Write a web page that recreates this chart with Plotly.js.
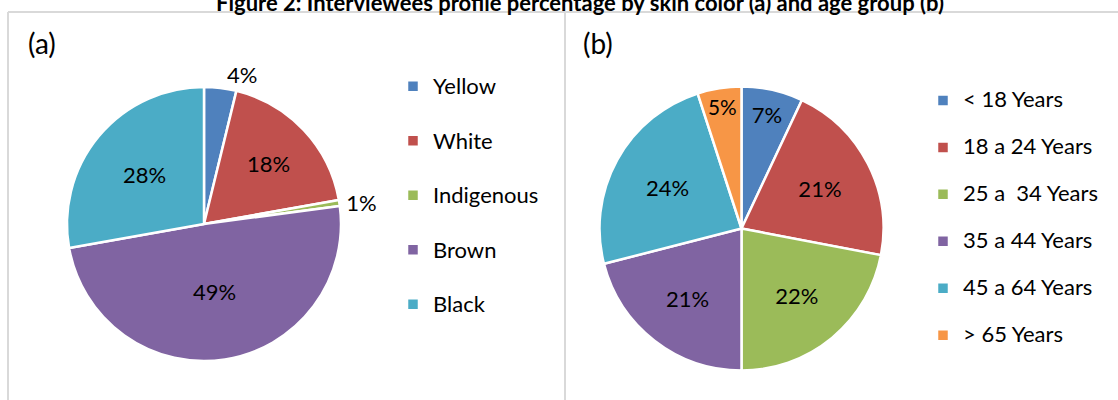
<!DOCTYPE html>
<html>
<head>
<meta charset="utf-8">
<script src="https://cdn.plot.ly/plotly-3.0.1.min.js"></script>
<style>html,body{margin:0;padding:0;background:#fff;}#chart{width:1118px;height:400px;}</style>
</head>
<body>
<div id="chart"></div>
<script>
// ---- data ----
var skinCategories = ["Yellow", "White", "Indigenous", "Brown", "Black"];
var skinValues = [3.8, 18.4, 0.7, 49.3, 27.8];
var skinColors = ["#4F81BD", "#C0504D", "#9BBB59", "#8064A2", "#4BACC6"];

var ageCategories = ["< 18 Years", "18 a 24 Years", "25 a  34 Years", "35 a 44 Years", "45 a 64 Years", "> 65 Years"];
var ageValues = [7, 21, 22, 21, 24, 5];
var ageColors = ["#4F81BD", "#C0504D", "#9BBB59", "#8064A2", "#4BACC6", "#F79646"];

var titleText = "Figure 2: Interviewees profile percentage by skin color (a) and age group (b)";

// ---- helpers ----
var W = 1118, H = 400;
function px(x) { return x / W; }
function py(y) { return 1 - y / H; }
var FONT = "Lato, 'Open Sans', sans-serif";
var labelSize = 22;
function legendLabel(c) {
  return '<span style="font-size:' + labelSize + 'px">' + c.replace(/</g, '&lt;').replace(/>/g, '&gt;') + '</span><br> ';
}

var skinTrace = {
  type: 'pie',
  labels: skinCategories.map(legendLabel),
  values: skinValues,
  sort: false,
  direction: 'clockwise',
  rotation: 0,
  marker: { colors: skinColors, line: { color: '#ffffff', width: 2.5 } },
  textinfo: 'percent',
  texttemplate: '%{percent:.0%}',
  textposition: ['outside', 'inside', 'outside', 'inside', 'inside'],
  insidetextorientation: 'horizontal',
  textfont: { family: FONT, size: labelSize, color: '#000000' },
  domain: { x: [px(67), px(341)], y: [py(361), py(87)] },
  legend: 'legend',
  hoverinfo: 'none'
};

var ageTrace = {
  type: 'pie',
  labels: ageCategories.map(legendLabel),
  values: ageValues,
  sort: false,
  direction: 'clockwise',
  rotation: 0,
  marker: { colors: ageColors, line: { color: '#ffffff', width: 2.5 } },
  textinfo: 'percent',
  texttemplate: '%{percent:.0%}',
  textposition: 'inside',
  insidetextorientation: 'horizontal',
  textfont: { family: FONT, size: labelSize, color: '#000000' },
  domain: { x: [px(599.5), px(883.5)], y: [py(370.5), py(86.5)] },
  legend: 'legend2',
  hoverinfo: 'none'
};

var borderColor = '#d9d9d9';
var layout = {
  width: W, height: H,
  margin: { l: 0, r: 0, t: 0, b: 0 },
  paper_bgcolor: '#ffffff',
  font: { family: FONT, color: '#000000' },
  showlegend: true,
  legend: {
    x: px(393), y: py(67), xanchor: 'left', yanchor: 'top',
    font: { family: FONT, size: 19.8, color: '#000000' },
    valign: 'top', bgcolor: 'rgba(0,0,0,0)', traceorder: 'normal'
  },
  legend2: {
    x: px(923), y: py(83), xanchor: 'left', yanchor: 'top',
    font: { family: FONT, size: 16.9, color: '#000000' },
    valign: 'top', bgcolor: 'rgba(0,0,0,0)', traceorder: 'normal'
  },
  shapes: [
    { type: 'line', xref: 'paper', yref: 'paper', x0: px(8), x1: px(8), y0: py(12), y1: py(410), line: { color: borderColor, width: 2 } },
    { type: 'line', xref: 'paper', yref: 'paper', x0: px(8), x1: px(1125), y0: py(12), y1: py(12), line: { color: borderColor, width: 2 } },
    { type: 'line', xref: 'paper', yref: 'paper', x0: px(565), x1: px(565), y0: py(12), y1: py(410), line: { color: borderColor, width: 2 } }
  ],
  annotations: [
    { text: '<b>' + titleText + '</b>', xref: 'paper', yref: 'paper', x: px(580), y: py(2.5), xanchor: 'center', yanchor: 'middle', showarrow: false, font: { family: FONT, size: 22, color: '#000000' } },
    { text: '(a)', xref: 'paper', yref: 'paper', x: px(26), y: py(43), xanchor: 'left', yanchor: 'middle', showarrow: false, font: { family: FONT, size: 28, color: '#000000' } },
    { text: '(b)', xref: 'paper', yref: 'paper', x: px(581), y: py(43), xanchor: 'left', yanchor: 'middle', showarrow: false, font: { family: FONT, size: 28, color: '#000000' } }
  ]
};

Plotly.newPlot('chart', [skinTrace, ageTrace], layout, { displayModeBar: false, staticPlot: true });
</script>
</body>
</html>
